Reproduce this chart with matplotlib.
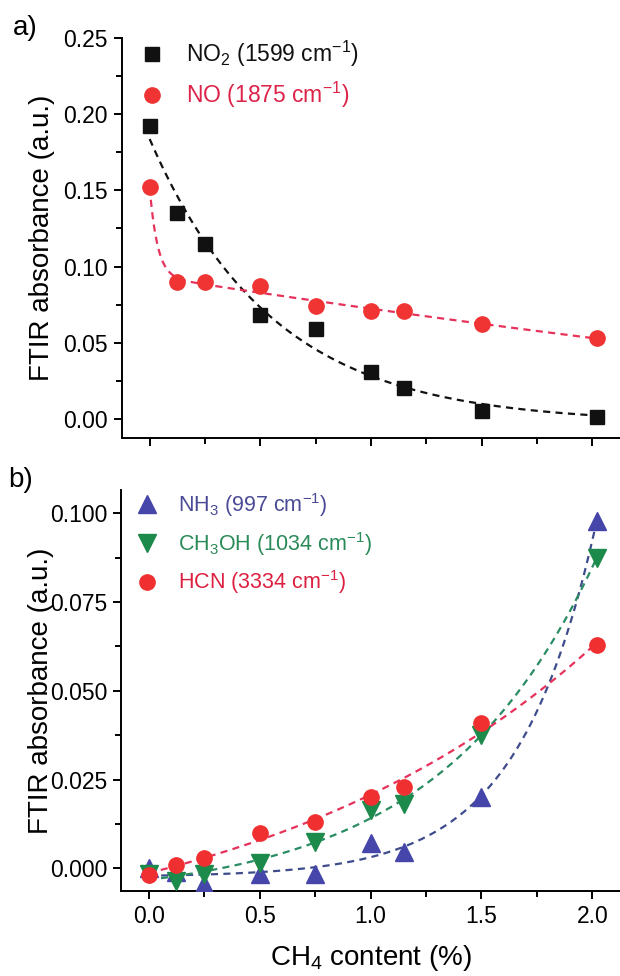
"""
FTIR absorbance vs CH4 content — two stacked panels
 a) NO2 / NO decaying with CH4
 b) NH3 / CH3OH / HCN growing with CH4
"""

import numpy as np
import matplotlib
matplotlib.use("Agg")
import matplotlib.pyplot as plt
from matplotlib.ticker import MultipleLocator, AutoMinorLocator

plt.rcParams["font.family"] = ["Liberation Sans", "DejaVu Sans"]
plt.rcParams["mathtext.default"] = "regular"

# ── Data ─────────────────────────────────────────────────────────────────────
ch4 = [0.0, 0.125, 0.25, 0.5, 0.75, 1.0, 1.15, 1.5, 2.02]

no2 = [0.192, 0.135, 0.115, 0.068, 0.059, 0.031, 0.020, 0.005, 0.001]
no  = [0.152, 0.090, 0.090, 0.087, 0.074, 0.071, 0.071, 0.062, 0.053]

nh3   = [0.0, -0.001, -0.0045, -0.0015, -0.0015, 0.007, 0.0045, 0.020, 0.098]
ch3oh = [-0.0015, -0.0035, -0.0015, 0.0015, 0.0075, 0.0165, 0.018, 0.0375, 0.0875]
hcn   = [-0.002, 0.001, 0.003, 0.010, 0.013, 0.020, 0.023, 0.041, 0.063]

# ── Colours ──────────────────────────────────────────────────────────────────
C_NO2     = "#111111"
C_NO      = "#f03434"
C_NO_TXT  = "#dc2349"
C_NO_LN   = "#e6325a"
C_NH3     = "#4646aa"
C_NH3_TXT = "#4a4a96"
C_NH3_LN  = "#3e4c8c"
C_MEOH    = "#1c8a4a"
C_MEOH_TXT = "#2a8a58"
C_MEOH_LN = "#2a8c62"
C_HCN     = "#f03030"
C_HCN_TXT = "#dc2040"
C_HCN_LN  = "#e6325a"

DASH = (0, (3.2, 2.4))
W, H = 620, 976


# ── Fit helpers (exponential fits, like the original dashed curves) ─────────
def fit_exp(x, y, taus, sign):
    """y = y0 + A*exp(sign*x/t), best t on a grid, A and y0 by least squares"""
    x = np.asarray(x); y = np.asarray(y)
    best = None
    for t in taus:
        M = np.column_stack([np.ones_like(x), np.exp(sign * x / t)])
        coef, *_ = np.linalg.lstsq(M, y, rcond=None)
        err = np.sum((M @ coef - y) ** 2)
        if best is None or err < best[0]:
            best = (err, t, coef)
    _, t, c = best
    return lambda xx: c[0] + c[1] * np.exp(sign * xx / t)


def fit_exp2(x, y, taus1, taus2):
    """double exponential decay"""
    x = np.asarray(x); y = np.asarray(y)
    best = None
    for t1 in taus1:
        for t2 in taus2:
            M = np.column_stack([np.ones_like(x), np.exp(-x / t1), np.exp(-x / t2)])
            coef, *_ = np.linalg.lstsq(M, y, rcond=None)
            err = np.sum((M @ coef - y) ** 2)
            if best is None or err < best[0]:
                best = (err, t1, t2, coef)
    _, t1, t2, c = best
    return lambda xx: c[0] + c[1] * np.exp(-xx / t1) + c[2] * np.exp(-xx / t2)


def style(ax, ylim, ymajor, fmt):
    ax.spines["top"].set_visible(False)
    ax.spines["right"].set_visible(False)
    for s in ("left", "bottom"):
        ax.spines[s].set_linewidth(1.4)
    ax.set_xlim(-0.125, 2.125)
    ax.set_ylim(*ylim)
    ax.xaxis.set_major_locator(MultipleLocator(0.5))
    ax.xaxis.set_minor_locator(MultipleLocator(0.25))
    ax.yaxis.set_major_locator(MultipleLocator(ymajor))
    ax.yaxis.set_minor_locator(AutoMinorLocator(2))
    ax.yaxis.set_major_formatter(fmt)
    ax.tick_params(which="major", direction="out", length=6, width=1.4,
                   labelsize=16.5, pad=4)
    ax.tick_params(which="minor", direction="out", length=4, width=1.4)
    ax.set_ylabel("FTIR absorbance (a.u.)", fontsize=20)
    ax.yaxis.set_label_coords(-0.135, 0.5)


def color_legend(ax, colors, fs, x_px, y_px, tp, ls):
    leg = ax.legend(loc="upper left", bbox_to_anchor=(x_px / W, 1 - y_px / H),
                    bbox_transform=fig.transFigure, frameon=False, fontsize=fs,
                    handlelength=1.0, handletextpad=tp, labelspacing=ls,
                    borderpad=0, borderaxespad=0)
    for txt, c in zip(leg.get_texts(), colors):
        txt.set_color(c)


fig = plt.figure(figsize=(6.2, 9.76), dpi=100)
xx = np.linspace(0, 2.02, 300)

# ── Panel a ──────────────────────────────────────────────────────────────────
ax1 = fig.add_axes([122 / W, 1 - 438 / H, 498 / W, 400 / H])
f_no2 = fit_exp(ch4, no2, np.linspace(0.1, 3, 300), -1)
f_no = fit_exp2(ch4, no, np.linspace(0.035, 0.2, 60), np.linspace(0.5, 15, 120))
ax1.plot(xx, f_no2(xx), color=C_NO2, ls=DASH, lw=1.6, zorder=2)
ax1.plot(xx, f_no(xx), color=C_NO_LN, ls=DASH, lw=1.6, zorder=2)
ax1.plot(ch4, no2, "s", color=C_NO2, ms=10.5, ls="none", zorder=3,
         label="NO$_2$ (1599 cm$^{-1}$)")
ax1.plot(ch4, no, "o", color=C_NO, ms=11, ls="none", zorder=3,
         label="NO (1875 cm$^{-1}$)")
style(ax1, (-0.0125, 0.25), 0.05, "{x:.2f}")
ax1.tick_params(axis="x", labelbottom=False)
color_legend(ax1, [C_NO2, C_NO_TXT], 16.5, 141, 39, 0.95, 0.45)

# ── Panel b ──────────────────────────────────────────────────────────────────
ax2 = fig.add_axes([121 / W, 1 - 891 / H, 499 / W, 401 / H])
f_nh3 = fit_exp(ch4, nh3, np.linspace(0.1, 3, 300), 1)
f_meoh = fit_exp(ch4, ch3oh, np.linspace(0.1, 3, 300), 1)
f_hcn = fit_exp(ch4, hcn, np.linspace(0.1, 5, 300), 1)
ax2.plot(xx, f_nh3(xx), color=C_NH3_LN, ls=DASH, lw=1.6, zorder=2)
ax2.plot(xx, f_meoh(xx), color=C_MEOH_LN, ls=DASH, lw=1.6, zorder=2)
ax2.plot(xx, f_hcn(xx), color=C_HCN_LN, ls=DASH, lw=1.6, zorder=2)
ax2.plot(ch4, nh3, "^", color=C_NH3, ms=12.5, ls="none", zorder=3,
         label="NH$_3$ (997 cm$^{-1}$)")
ax2.plot(ch4, ch3oh, "v", color=C_MEOH, ms=12.5, ls="none", zorder=3,
         label="CH$_3$OH (1034 cm$^{-1}$)")
ax2.plot(ch4, hcn, "o", color=C_HCN, ms=11, ls="none", zorder=3,
         label="HCN (3334 cm$^{-1}$)")
style(ax2, (-0.0064, 0.1066), 0.025, "{x:.3f}")
ax2.xaxis.set_major_formatter("{x:.1f}")
ax2.set_xlabel("CH$_4$ content (%)", fontsize=20, labelpad=11)
color_legend(ax2, [C_NH3_TXT, C_MEOH_TXT, C_HCN_TXT], 15.5, 136, 491, 0.95, 0.5)

fig.text(13 / W, 1 - 28 / H, "a)", fontsize=20, va="center")
fig.text(8 / W, 1 - 480 / H, "b)", fontsize=20, va="center")

fig.savefig("out.png", dpi=100)
